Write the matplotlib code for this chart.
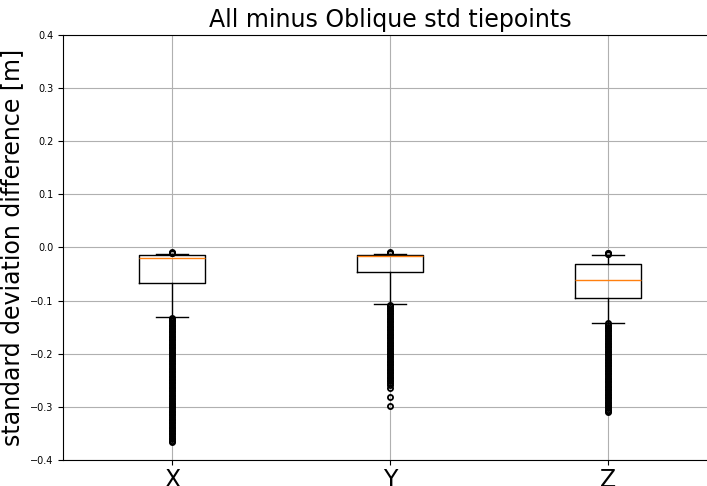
import matplotlib
matplotlib.use("Agg")
import matplotlib.pyplot as plt

labels = ["X", "Y", "Z"]

# box statistics per axis component [m]
medians = [-0.020, -0.016, -0.061]
q1 = [-0.066, -0.046, -0.095]
q3 = [-0.014, -0.014, -0.031]
whisker_low = [-0.131, -0.107, -0.142]
whisker_high = [-0.012, -0.012, -0.014]

# outlying tie points [m]
fliers_x = [-0.009, -0.010, -0.011,
            -0.133, -0.136, -0.139, -0.142, -0.145, -0.148, -0.151, -0.154,
            -0.157, -0.160, -0.163, -0.166, -0.169, -0.172, -0.175, -0.178,
            -0.181, -0.184, -0.187, -0.190, -0.193, -0.196, -0.199, -0.202,
            -0.205, -0.208, -0.211, -0.214, -0.217, -0.220, -0.223, -0.226,
            -0.229, -0.232, -0.235, -0.238, -0.241, -0.244, -0.247, -0.250,
            -0.253, -0.256, -0.259, -0.262, -0.265, -0.268, -0.271, -0.274,
            -0.277, -0.280, -0.283, -0.286, -0.289, -0.292, -0.295, -0.298,
            -0.301, -0.304, -0.307, -0.310, -0.313, -0.316, -0.319, -0.322,
            -0.325, -0.328, -0.331, -0.334, -0.337, -0.340, -0.343, -0.346,
            -0.349, -0.352, -0.355, -0.358, -0.361, -0.364, -0.367]
fliers_y = [-0.009, -0.010, -0.011,
            -0.108, -0.111, -0.114, -0.117, -0.120, -0.123, -0.126, -0.129,
            -0.132, -0.135, -0.138, -0.141, -0.144, -0.147, -0.150, -0.153,
            -0.156, -0.159, -0.162, -0.165, -0.168, -0.171, -0.174, -0.177,
            -0.180, -0.183, -0.186, -0.189, -0.192, -0.195, -0.198, -0.201,
            -0.204, -0.207, -0.210, -0.213, -0.216, -0.219, -0.222, -0.225,
            -0.228, -0.231, -0.234, -0.237, -0.240, -0.243, -0.246, -0.249,
            -0.252, -0.255, -0.258,
            -0.265, -0.281, -0.298]
fliers_z = [-0.010, -0.011, -0.012, -0.013,
            -0.143, -0.146, -0.149, -0.152, -0.155, -0.158, -0.161, -0.164,
            -0.167, -0.170, -0.173, -0.176, -0.179, -0.182, -0.185, -0.188,
            -0.191, -0.194, -0.197, -0.200, -0.203, -0.206, -0.209, -0.212,
            -0.215, -0.218, -0.221, -0.224, -0.227, -0.230, -0.233, -0.236,
            -0.239, -0.242, -0.245, -0.248, -0.251, -0.254, -0.257, -0.260,
            -0.263, -0.266, -0.269, -0.272, -0.275, -0.278, -0.281, -0.284,
            -0.287, -0.290, -0.293, -0.296, -0.299, -0.302, -0.305, -0.308,
            -0.310]
fliers = [fliers_x, fliers_y, fliers_z]

stats = []
for i, lab in enumerate(labels):
    stats.append(dict(label=lab, med=medians[i], q1=q1[i], q3=q3[i],
                      whislo=whisker_low[i], whishi=whisker_high[i],
                      fliers=fliers[i]))

fig = plt.figure(figsize=(7.07, 4.86), dpi=100)
ax = fig.add_axes([0.0891, 0.0535, 0.925, 0.8745])

ax.bxp(stats, positions=[1, 2, 3], widths=0.3,
       flierprops=dict(marker="o", markerfacecolor="none",
                       markeredgecolor="black", markersize=3.7,
                       markeredgewidth=1.3))

ax.set_xlim(0.5, 3.5)
ax.set_ylim(-0.4, 0.4)
ax.set_yticks([-0.4, -0.3, -0.2, -0.1, 0.0, 0.1, 0.2, 0.3, 0.4])
ax.tick_params(axis="y", labelsize=7)
ax.tick_params(axis="x", labelsize=17, pad=2.5)
ax.grid(True)
ax.set_title("All minus Oblique std tiepoints", fontsize=17)
ax.set_ylabel("standard deviation difference [m]", fontsize=17)

fig.savefig("out.png", dpi=100)
